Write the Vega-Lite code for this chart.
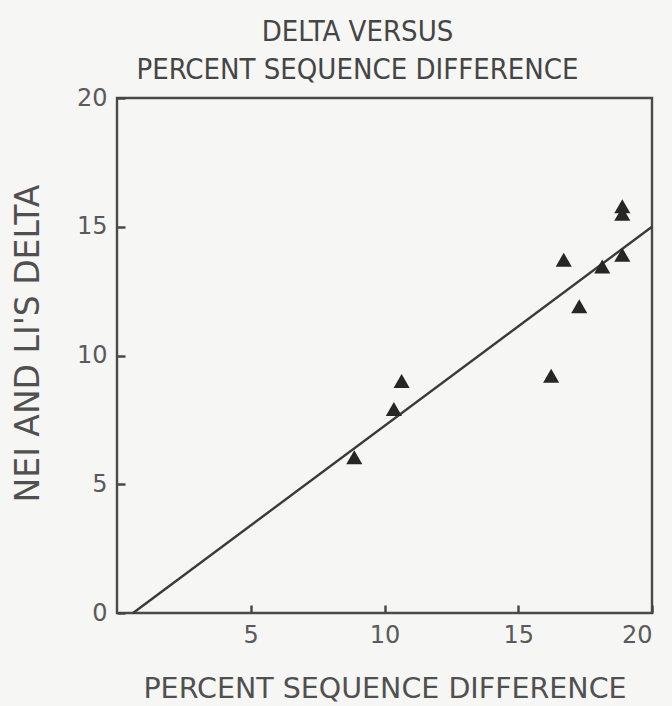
{
  "$schema": "https://vega.github.io/schema/vega-lite/v6.json",
  "width": 535,
  "height": 515,
  "autosize": "none",
  "padding": {"left": 117, "top": 98, "right": 20, "bottom": 93},
  "background": "#f6f6f4",
  "config": {
    "view": {"stroke": "#4a4a4a", "strokeWidth": 2.4},
    "font": "DejaVu Sans",
    "axis": {
      "grid": false,
      "domain": false,
      "ticks": true,
      "tickSize": 8,
      "tickWidth": 2.4,
      "tickColor": "#444444",
      "offset": -8,
      "labelColor": "#5a5a5a",
      "labelFontSize": 24,
      "labelFont": "DejaVu Sans",
      "titleColor": "#505050",
      "titleFont": "DejaVu Sans",
      "titleFontWeight": "normal"
    }
  },
  "title": {
    "text": ["DELTA VERSUS", "PERCENT SEQUENCE DIFFERENCE"],
    "anchor": "middle",
    "dx": -27,
    "fontSize": 29,
    "fontWeight": "normal",
    "font": "DejaVu Sans Condensed",
    "color": "#454545",
    "lineHeight": 38,
    "offset": 1
  },
  "layer": [
    {
      "data": {"values": [{"pct": 0.6, "delta": 0}, {"pct": 20, "delta": 15}]},
      "mark": {"type": "line", "color": "#3a3a3a", "strokeWidth": 2.4},
      "encoding": {
        "x": {"field": "pct", "type": "quantitative"},
        "y": {"field": "delta", "type": "quantitative"}
      }
    },
    {
      "data": {"values": [
        {"pct": 8.87, "delta": 6.05},
        {"pct": 10.35, "delta": 7.92},
        {"pct": 10.64, "delta": 9.01},
        {"pct": 16.23, "delta": 9.21},
        {"pct": 16.7, "delta": 13.72},
        {"pct": 17.28, "delta": 11.91},
        {"pct": 18.14, "delta": 13.46},
        {"pct": 18.89, "delta": 13.91},
        {"pct": 18.89, "delta": 15.5},
        {"pct": 18.89, "delta": 15.8}
      ]},
      "mark": {"type": "point", "shape": "triangle-up", "filled": true, "color": "#262626", "opacity": 1, "size": 260},
      "encoding": {
        "x": {
          "field": "pct", "type": "quantitative",
          "scale": {"domain": [0, 20], "nice": false},
          "axis": {"values": [5, 10, 15, 20], "title": "PERCENT SEQUENCE DIFFERENCE", "titleFontSize": 28.5, "titlePadding": 27, "labelPadding": 10}
        },
        "y": {
          "field": "delta", "type": "quantitative",
          "scale": {"domain": [0, 20], "nice": false},
          "axis": {"values": [0, 5, 10, 15, 20], "title": "NEI AND LI'S DELTA", "titleFontSize": 33, "titlePadding": 31, "titleY": 245, "labelPadding": 10}
        }
      }
    }
  ]
}
